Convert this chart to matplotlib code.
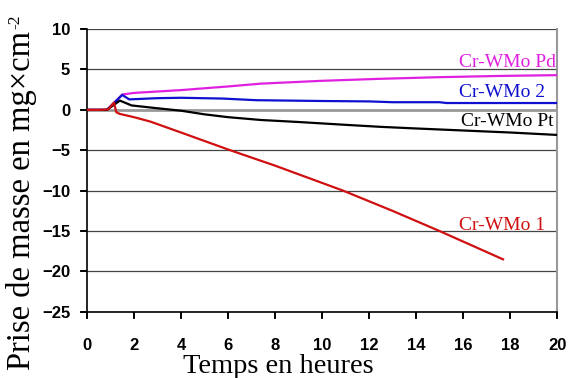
import matplotlib
matplotlib.use("Agg")
import matplotlib.pyplot as plt

# Data
pd_x = [0, 0.85, 1.5, 2, 4, 6, 7.4, 10, 12.5, 15, 17.5, 20]
pd_y = [0, 0, 1.9, 2.1, 2.45, 2.9, 3.25, 3.6, 3.85, 4.05, 4.2, 4.3]

w2_x = [0, 0.85, 1.5, 1.8, 2.2, 3, 4, 5.8, 7.2, 10, 12, 13, 15, 15.3, 20]
w2_y = [0, 0, 1.85, 1.3, 1.35, 1.45, 1.5, 1.4, 1.2, 1.1, 1.05, 0.95, 0.95, 0.85, 0.85]

pt_x = [0, 0.85, 1.4, 1.9, 3, 4, 5, 6, 7.4, 9, 11, 12.5, 14, 16, 18, 20]
pt_y = [0, 0, 1.15, 0.55, 0.2, -0.1, -0.55, -0.9, -1.25, -1.5, -1.85, -2.1, -2.3, -2.55, -2.8, -3.1]

w1_x = [0, 0.5, 0.9, 1.15, 1.25, 1.4, 2, 2.7, 4, 6.1, 8, 10.9, 13, 15, 17.7]
w1_y = [0, 0, 0.05, 0.9, -0.3, -0.5, -0.9, -1.45, -2.8, -5, -6.9, -10, -12.5, -15, -18.5]

series = [
    (pd_x, pd_y, '#e020e0', 'Cr-WMo Pd'),
    (w2_x, w2_y, '#1010d0', 'Cr-WMo 2'),
    (pt_x, pt_y, '#000000', 'Cr-WMo Pt'),
    (w1_x, w1_y, '#d01010', 'Cr-WMo 1'),
]

labels_pos = [(19.95, 5.9), (19.5, 2.2), (19.85, -1.4), (19.5, -14.3)]

xticks = list(range(0, 21, 2))
yticks = list(range(-25, 11, 5))

fig = plt.figure(figsize=(5.72, 3.78), dpi=100)
ax = fig.add_axes([0.152, 0.175, 0.822, 0.748])

for yt in yticks:
    if yt == 0:
        ax.axhline(yt, color='#999999', lw=2.0, zorder=1)
    else:
        ax.axhline(yt, color='#444444', lw=0.9, zorder=1)

for (x, y, c, lab), (lx, ly) in zip(series, labels_pos):
    ax.plot(x, y, color=c, lw=1.6, zorder=3)
    ax.text(lx, ly, lab, color=c, ha='right', va='center',
            family='Liberation Serif', fontsize=14)

ax.set_xlim(0, 20)
ax.set_ylim(-25, 10)
ax.set_xticks(xticks)
ax.set_yticks(yticks)
for lbl in ax.get_xticklabels() + ax.get_yticklabels():
    lbl.set_fontfamily('Liberation Sans')
    lbl.set_fontweight('bold')
    lbl.set_fontsize(12)
ax.tick_params(axis='x', which='major', bottom=True, direction='out',
               length=5, width=1.3, color='black', pad=14)
ax.tick_params(axis='y', which='major', left=True, direction='out',
               length=5, width=1.3, color='black', pad=7)
# explicit tick marks (drawn on the axis transforms)
ax.vlines(xticks, -6 / 283, 0, transform=ax.get_xaxis_transform(),
          colors='black', lw=1.2, clip_on=False, zorder=4)
ax.hlines(yticks, -6 / 470, 0, transform=ax.get_yaxis_transform(),
          colors='black', lw=1.2, clip_on=False, zorder=4)

ax.spines['top'].set_visible(False)
ax.spines['right'].set_color('#999999')
ax.spines['right'].set_linewidth(1.5)
ax.spines['left'].set_linewidth(1.2)
ax.spines['bottom'].set_linewidth(1.2)

ax.set_xlabel('Temps en heures', family='Liberation Serif', fontsize=20.5)
ax.xaxis.set_label_coords(0.408, -0.148)

# y label: main text + small superscript
ylab = fig.text(37 / 572, 1 - 200 / 378, 'Prise de masse en mg×cm',
                family='Liberation Serif', fontsize=23.5, rotation=90,
                ha='right', va='center')
fig.canvas.draw()
bb = ylab.get_window_extent(renderer=fig.canvas.get_renderer())
fig.text((bb.x0 + 1) / 572, (bb.y1 + 1) / 378, '-2',
         family='Liberation Serif', fontsize=12.5, rotation=90,
         ha='left', va='bottom')

fig.savefig('out.png', dpi=100)
